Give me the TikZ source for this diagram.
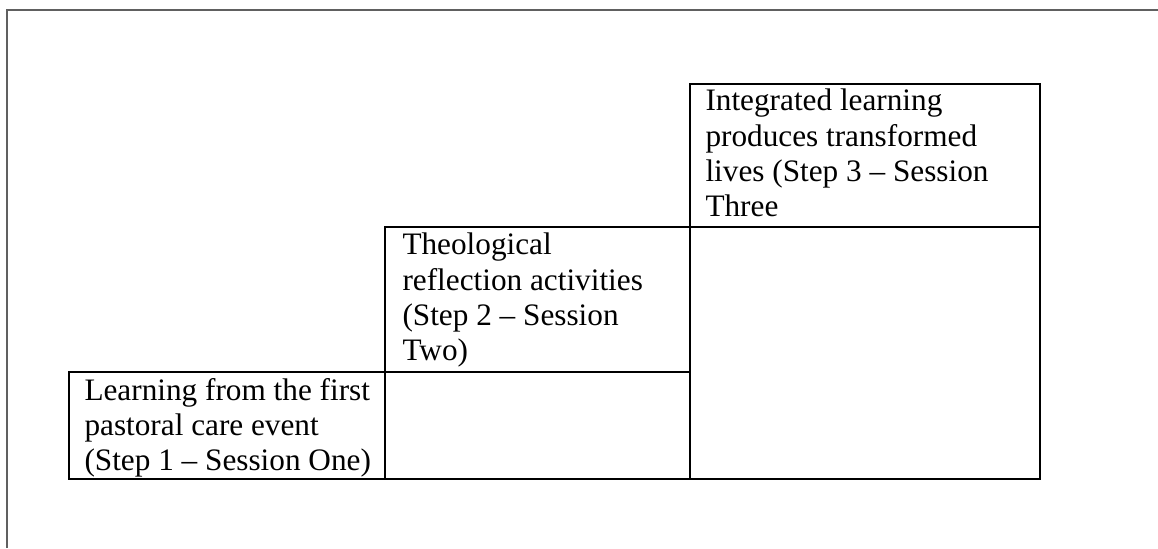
\documentclass[tikz,border=0pt]{standalone}
\usepackage{fontspec}
\setmainfont{Liberation Serif}
\definecolor{frameG}{RGB}{96,96,96}
\tikzset{cell/.style={draw,line width=1pt,black},
  celltext/.style={anchor=north west,inner sep=0pt,align=left,font=\fontsize{12.5pt}{14.1pt}\selectfont}}

\begin{document}
\begin{tikzpicture}[x=0.4pt,y=-0.4pt]
\useasboundingbox (0,0) rectangle (1158,548);
\coordinate (A) at (69,372); \coordinate (B) at (385,227); \coordinate (C) at (690,84);
\coordinate (D) at (1040,479);
\draw[line width=0.9pt,frameG] (7,548)--(7,10)--(1158,10);
\draw[cell] (A) rectangle (B |- D);
\draw[cell] (B) rectangle (C |- A);
\draw[cell] (B |- A) rectangle (C |- D);
\draw[cell] (C) rectangle (D |- B);
\draw[cell] (C |- B) rectangle (D);
\node[celltext] (step1) at (84,377.7) {Learning from the first\\pastoral care event\\(Step 1 -- Session One)};
\node[celltext] (step2) at (402,232.7) {Theological\\reflection activities\\(Step 2 -- Session\\Two)};
\node[celltext] (step3) at (705,88.7) {Integrated learning\\produces transformed\\lives (Step 3 -- Session\\Three};
\end{tikzpicture}
\end{document}
